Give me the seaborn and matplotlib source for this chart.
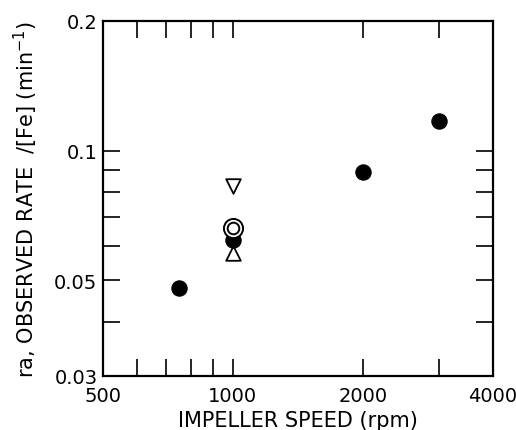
import numpy as np
import pandas as pd
import matplotlib
matplotlib.use('Agg')
import matplotlib.pyplot as plt
from matplotlib.ticker import FixedLocator, NullFormatter, FixedFormatter
import seaborn as sns

# filled circles: main series
speed_filled = [750, 1000, 2000, 3000]
rate_filled = [0.048, 0.062, 0.089, 0.117]

# open symbols, all at 1000 rpm
speed_down = [1000]
rate_down = [0.083]
speed_ring = [1000]
rate_ring = [0.066]
speed_up = [1000]
rate_up = [0.058]

x_major = [500, 1000, 2000, 4000]
x_minor = [600, 700, 800, 900, 3000]
y_major = [0.03, 0.05, 0.1, 0.2]
y_minor = [0.04, 0.06, 0.07, 0.08, 0.09]
x_labels = ['500', '1000', '2000', '4000']
y_labels = ['0.03', '0.05', '0.1', '0.2']

sns.set_style('white')
plt.rcParams['font.family'] = ['DejaVu Sans']
plt.rcParams['text.color'] = 'black'
plt.rcParams['axes.labelcolor'] = 'black'
plt.rcParams['xtick.color'] = 'black'
plt.rcParams['ytick.color'] = 'black'

fig = plt.figure(figsize=(5.16, 4.31), dpi=100)
ax = fig.add_axes([0.1996, 0.1253, 0.7554, 0.8237])

filled = pd.DataFrame({'speed': speed_filled, 'rate': rate_filled})
sns.scatterplot(data=filled, x='speed', y='rate', ax=ax, s=120,
                color='black', edgecolor='black', marker='o', zorder=3)
sns.scatterplot(x=speed_down, y=rate_down, ax=ax, s=110, marker='v',
                facecolor='white', edgecolor='black', linewidth=1.3, zorder=3)
sns.scatterplot(x=speed_up, y=rate_up, ax=ax, s=110, marker='^',
                facecolor='white', edgecolor='black', linewidth=1.3, zorder=2)
sns.scatterplot(x=speed_ring, y=rate_ring, ax=ax, s=190, marker='o',
                facecolor='white', edgecolor='black', linewidth=1.4, zorder=4)
sns.scatterplot(x=speed_ring, y=rate_ring, ax=ax, s=70, marker='o',
                facecolor='white', edgecolor='black', linewidth=1.4, zorder=5)

ax.set_xscale('log')
ax.set_yscale('log')
ax.set_xlim(500, 4000)
ax.set_ylim(0.03, 0.2)

ax.xaxis.set_major_locator(FixedLocator(x_major))
ax.xaxis.set_major_formatter(FixedFormatter(x_labels))
ax.xaxis.set_minor_locator(FixedLocator(x_minor))
ax.xaxis.set_minor_formatter(NullFormatter())
ax.yaxis.set_major_locator(FixedLocator(y_major))
ax.yaxis.set_major_formatter(FixedFormatter(y_labels))
ax.yaxis.set_minor_locator(FixedLocator(y_minor))
ax.yaxis.set_minor_formatter(NullFormatter())

ax.tick_params(which='both', direction='in', top=True, right=True,
               bottom=True, left=True,
               length=12, width=1.2, colors='black', labelsize=14)
ax.tick_params(axis='x', pad=7)
ax.tick_params(axis='y', pad=4)

for sp in ax.spines.values():
    sp.set_linewidth(1.6)
    sp.set_color('black')

ax.set_xlabel('IMPELLER SPEED (rpm)', fontsize=15, labelpad=4)
ax.set_ylabel('ra, OBSERVED RATE  /[Fe] (min$^{-1}$)', fontsize=15, labelpad=10)

plt.savefig('out.png', dpi=100)
